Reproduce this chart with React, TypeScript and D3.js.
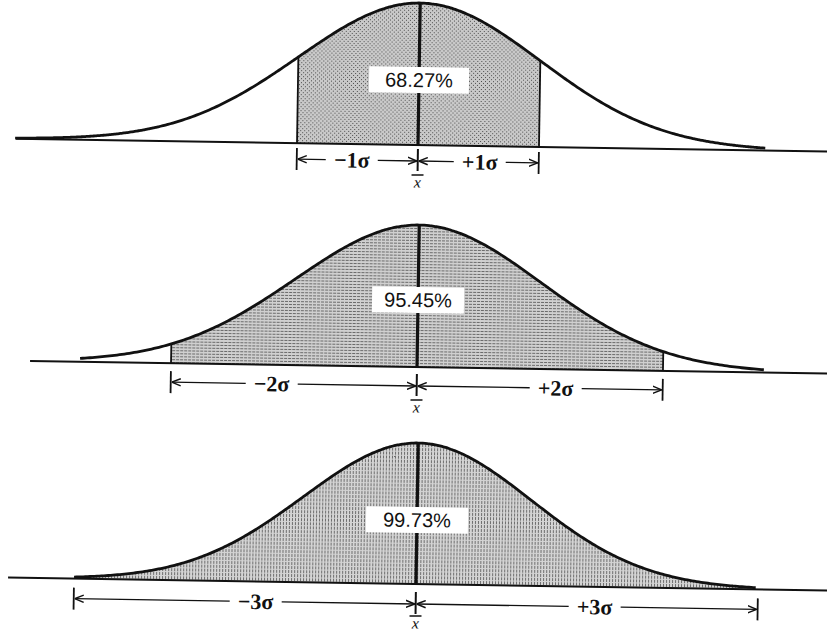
import React from "react";
import * as d3 from "d3";

// ---- data ----
const sigmaMultiples = [1, 2, 3];
const percentLabels = ["68.27%", "95.45%", "99.73%"];
const leftSigmaLabels = ["\u22121\u03c3", "\u22122\u03c3", "\u22123\u03c3"];
const rightSigmaLabels = ["+1\u03c3", "+2\u03c3", "+3\u03c3"];
const curveStartZ = [-3.33, -2.74, -3.0];
const curveEndZ = [2.87, 2.83, 2.98];
const meanLabel = "x";

// ---- layout (positions only) ----
const W = 827;
const H = 637;
const layout = [
  { meanX: 418, baseY: 145, peakH: 142, sigmaPx: 121, bracketY: 161, xbarY: 182, lineStart: 16, leftLX: 352, rightLX: 480, boxY: 80, boxW: 100, pattern: "p1" },
  { meanX: 417, baseY: 367, peakH: 142, sigmaPx: 123, bracketY: 386, xbarY: 407, lineStart: 30, leftLX: 272, rightLX: 556, boxY: 300, boxW: 92, pattern: "p2" },
  { meanX: 416, baseY: 584, peakH: 141, sigmaPx: 114, bracketY: 604, xbarY: 623, lineStart: 8, leftLX: 256, rightLX: 595, boxY: 520, boxW: 102, pattern: "p3" },
];

const pdfRel = (z: number) => Math.exp(-0.5 * z * z);

function Panel({ i }: { i: number }) {
  const L = layout[i];
  const k = sigmaMultiples[i];
  const meanX = L.meanX;
  const x = d3.scaleLinear().domain([-1, 1]).range([meanX - L.sigmaPx, meanX + L.sigmaPx]);
  const y = d3.scaleLinear().domain([0, 1]).range([L.baseY, L.baseY - L.peakH]);
  const zs = d3.range(curveStartZ[i], curveEndZ[i] + 0.0001, 0.02);
  const line = d3.line<number>().x((z) => x(z)).y((z) => y(pdfRel(z))).curve(d3.curveBasis);
  const area = d3
    .area<number>()
    .x((z) => x(z))
    .y0(y(0))
    .y1((z) => y(pdfRel(z)))
    .curve(d3.curveBasis);
  const shadeZ = d3.range(Math.max(-k, curveStartZ[i]), Math.min(k, curveEndZ[i]) + 0.0001, 0.02);
  const xl = x(-k);
  const xr = x(k);
  const xm = x(0);
  const by = L.bracketY;
  const gap = 26;
  const fs = 22;
  const serif = "Liberation Serif, DejaVu Serif, serif";
  return (
    <g transform={`rotate(0.9, ${meanX}, ${L.baseY})`}>
      <path d={area(shadeZ) || ""} fill={`url(#${L.pattern})`} stroke="none" />
      {/* baseline */}
      <line x1={L.lineStart} x2={W + 10} y1={y(0)} y2={y(0)} stroke="#111" strokeWidth={2} />
      {/* curve */}
      <path d={line(zs) || ""} fill="none" stroke="#111" strokeWidth={2.8} />
      {/* shade boundaries */}
      {k < 3 && (
        <>
          <line x1={xl} x2={xl} y1={y(0)} y2={y(pdfRel(-k))} stroke="#111" strokeWidth={1.8} />
          <line x1={xr} x2={xr} y1={y(0)} y2={y(pdfRel(k))} stroke="#111" strokeWidth={1.8} />
        </>
      )}
      {/* mean line */}
      <line x1={xm} x2={xm} y1={y(0)} y2={y(1)} stroke="#111" strokeWidth={3.2} />
      {/* label box */}
      <rect x={xm - L.boxW / 2} y={L.boxY - 13} width={L.boxW} height={26} fill="#fff" />
      <text x={xm} y={L.boxY} textAnchor="middle" dominantBaseline="central" fontFamily="Liberation Sans, Arial, sans-serif" fontSize={20} fill="#111">
        {percentLabels[i]}
      </text>
      {/* bracket ticks */}
      <line x1={xl} x2={xl} y1={by - 11} y2={by + 11} stroke="#111" strokeWidth={1.8} />
      <line x1={xr} x2={xr} y1={by - 11} y2={by + 11} stroke="#111" strokeWidth={1.8} />
      <line x1={xm} x2={xm} y1={by - 12} y2={by + 10} stroke="#111" strokeWidth={2} />
      {/* left half dimension */}
      <line x1={xl + 1} x2={L.leftLX - gap} y1={by} y2={by} stroke="#111" strokeWidth={1.3} markerStart="url(#arr)" />
      <line x1={L.leftLX + gap} x2={xm - 1} y1={by} y2={by} stroke="#111" strokeWidth={1.3} markerEnd="url(#arr)" />
      <text x={L.leftLX} y={by} textAnchor="middle" dominantBaseline="central" fontFamily={serif} fontWeight={600} fontSize={fs} fill="#111">
        {leftSigmaLabels[i]}
      </text>
      {/* right half dimension */}
      <line x1={xm + 1} x2={L.rightLX - gap} y1={by} y2={by} stroke="#111" strokeWidth={1.3} markerStart="url(#arr)" />
      <line x1={L.rightLX + gap} x2={xr - 1} y1={by} y2={by} stroke="#111" strokeWidth={1.3} markerEnd="url(#arr)" />
      <text x={L.rightLX} y={by} textAnchor="middle" dominantBaseline="central" fontFamily={serif} fontWeight={600} fontSize={fs} fill="#111">
        {rightSigmaLabels[i]}
      </text>
      {/* x-bar */}
      <line x1={xm - 6} x2={xm + 6} y1={L.xbarY - 7} y2={L.xbarY - 7} stroke="#111" strokeWidth={1.5} />
      <text x={xm} y={L.xbarY} textAnchor="middle" dominantBaseline="central" fontFamily={serif} fontStyle="italic" fontSize={16} fill="#111">
        {meanLabel}
      </text>
    </g>
  );
}

export default function App() {
  return (
    <svg width={W} height={H} style={{ position: "absolute", left: 0, top: 0, background: "#fff" }}>
      <defs>
        <pattern id="p1" width={4} height={4} patternUnits="userSpaceOnUse">
          <rect width={4} height={4} fill="#c9c9c9" />
          <rect x={0} y={0} width={1} height={1} fill="#4a4a4a" />
          <rect x={2} y={2} width={1} height={1} fill="#4a4a4a" />
        </pattern>
        <pattern id="p2" width={4} height={3} patternUnits="userSpaceOnUse">
          <rect width={4} height={3} fill="#d0d0d0" />
          <rect x={0} y={0} width={3} height={1} fill="#6a6a6a" />
        </pattern>
        <pattern id="p3" width={3} height={4} patternUnits="userSpaceOnUse">
          <rect width={3} height={4} fill="#d4d4d4" />
          <rect x={0} y={0} width={1} height={3} fill="#6e6e6e" />
        </pattern>
        <marker id="arr" viewBox="0 0 10 10" refX={10} refY={5} markerWidth={9} markerHeight={9} markerUnits="userSpaceOnUse" orient="auto-start-reverse">
          <path d="M0,1 L10,5 L0,9" fill="none" stroke="#111" strokeWidth={1.6} />
        </marker>
      </defs>
      {sigmaMultiples.map((_, i) => (
        <Panel key={i} i={i} />
      ))}
    </svg>
  );
}
